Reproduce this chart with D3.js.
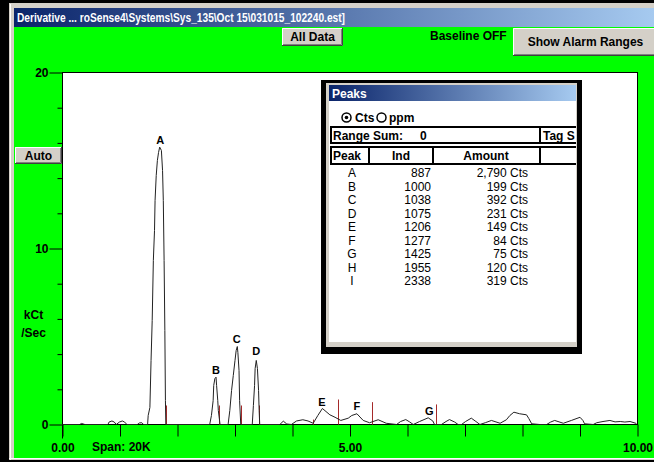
<!DOCTYPE html>
<html><head><meta charset="utf-8">
<script src="https://cdn.jsdelivr.net/npm/d3@7"></script>
<style>
body{margin:0;overflow:hidden;background:#000}
svg{display:block}
text{font-family:"Liberation Sans",Arial,sans-serif}
</style>
</head><body>
<svg id="c" width="654" height="462"></svg>
<script>
// ---------- data ----------
const curveX = [0,0.30,0.33,0.39,0.79,0.81,0.86,0.90,0.935,0.99,1.04,1.08,1.12,1.30,1.34,1.38,1.41,
  1.48,1.49,1.52,1.54,1.56,1.58,1.60,1.61,1.63,1.65,1.67,1.69,1.72,1.74,1.753,1.767,1.78,1.79,1.797,
  2.56,2.59,2.62,2.63,2.65,2.67,2.68,2.70,2.71,2.74,
  2.88,2.91,2.94,2.97,3.00,3.02,3.04,3.05,3.07,3.08,3.10,
  3.30,3.32,3.34,3.35,3.37,3.39,3.41,3.42,3.43,
  3.78,3.84,3.90,3.98,4.07,4.18,4.27,4.36,4.44,4.52,4.65,4.74,4.84,4.97,5.03,5.12,5.23,5.34,5.49,5.63,
  5.81,5.88,5.97,6.04,6.10,6.21,6.36,6.44,6.47,6.59,6.67,6.73,6.82,6.88,6.94,7.01,7.11,7.19,7.26,
  7.36,7.46,7.61,7.72,7.78,7.85,7.95,8.07,8.11,8.16,8.30,8.42,8.49,8.56,8.71,8.85,9.00,9.05,9.08,
  9.23,9.29,9.40,9.52,9.61,9.70,9.78,9.87,9.98];
const curveY = [0,0,0.06,0,0,0.14,0.20,0.14,0,0.14,0.20,0.14,0,0,0.09,0.10,0,
  0,0.51,0.97,3.64,5.91,9.32,11.02,12.73,14.15,15.0,15.45,15.76,15.57,14.43,12.73,9.32,5.34,1.36,0,
  0,0.51,1.36,2.22,2.61,2.69,2.22,1.36,0.80,0,
  0,0.80,1.93,2.78,3.64,4.20,4.43,4.09,3.07,1.36,0,
  0,1.08,2.22,3.18,3.64,3.18,1.93,0.80,0,
  0,0.19,0.03,0,0.20,0.27,0.20,0.07,0.51,0.91,0.55,0.41,0.23,0.36,0.51,0.61,0.23,0.10,0.27,0.07,
  0,0.17,0.28,0.14,0,0.17,0.38,0.20,0,0,0.17,0.28,0.14,0,0,0.17,0.36,0.17,0,
  0.11,0.23,0.07,0.27,0.51,0.70,0.61,0.55,0.34,0.04,0,0,0.14,0.23,0.07,0.23,0.41,0.23,0.04,
  0,0.10,0.17,0.23,0.15,0.17,0.14,0.17,0.06];

const labelNames = ["A","B","C","D","E","F","G"];
const labelX = [1.70,2.67,3.03,3.37,4.51,5.12,6.38];
const labelY = [16.17,3.11,4.87,4.20,1.27,1.04,0.74];

const markerX = [1.797,2.723,3.096,3.419,4.36,4.793,5.391,6.487];
const markerY = [1.08,1.08,1.08,1.08,0.28,1.42,1.27,1.14];

const yMajorTicks = [0,10,20];
const yMinorTicks = [2,4,6,8,12,14,16,18];
const xTicks = [0,1,2,3,4,5,6,7,8,9,10];
const xLabelTicks = [0,5,10];

const peakNames = ["A","B","C","D","E","F","G","H","I"];
const peakInd = [887,1000,1038,1075,1206,1277,1425,1955,2338];
const peakAmount = ["2,790","199","392","231","149","84","75","120","319"];

const titleText = "Derivative ... roSense4\\Systems\\Sys_135\\Oct 15\\031015_102240.est]";

// ---------- drawing ----------
const svg = d3.select("#c");
const defs = svg.append("defs");
const grad = defs.append("linearGradient").attr("id","tb").attr("x1","0").attr("x2","1");
grad.append("stop").attr("offset","0").attr("stop-color","#0a246a");
grad.append("stop").attr("offset","1").attr("stop-color","#a6caf0");

// window frame
svg.append("rect").attr("x",0).attr("y",0).attr("width",654).attr("height",462).attr("fill","#000");
svg.append("rect").attr("x",9).attr("y",3).attr("width",645).attr("height",457).attr("fill","#d4d0c8");
svg.append("line").attr("x1",10.5).attr("x2",10.5).attr("y1",4).attr("y2",460).attr("stroke","#fff");
svg.append("rect").attr("x",14).attr("y",8).attr("width",640).attr("height",19).attr("fill","url(#tb)");
svg.append("text").attr("x",17).attr("y",22).attr("fill","#fff").attr("font-weight","bold")
  .attr("font-size",12).attr("textLength",328).attr("lengthAdjust","spacingAndGlyphs").text(titleText);
svg.append("rect").attr("x",14).attr("y",27).attr("width",640).attr("height",431).attr("fill","#00ff00");
svg.append("line").attr("x1",9).attr("x2",654).attr("y1",458.5).attr("y2",458.5).attr("stroke","#fff");

function button(x,y,w,h,label,fs){
  const g = svg.append("g");
  g.append("rect").attr("x",x).attr("y",y).attr("width",w).attr("height",h).attr("fill","#d4d0c8");
  g.append("path").attr("d",`M${x+0.5},${y+h-1}V${y+0.5}H${x+w-1}`).attr("stroke","#fff").attr("fill","none");
  g.append("path").attr("d",`M${x+1},${y+h-1.5}H${x+w-1.5}V${y+1}`).attr("stroke","#808080").attr("fill","none");
  g.append("path").attr("d",`M${x},${y+h-0.5}H${x+w-0.5}V${y}`).attr("stroke","#404040").attr("fill","none");
  g.append("text").attr("x",x+w/2).attr("y",y+h/2).attr("dy","0.36em").attr("text-anchor","middle")
    .attr("font-weight","bold").attr("font-size",fs||12).attr("fill","#000").text(label);
}
button(282,28,61,18,"All Data");
button(513,28,145,28,"Show Alarm Ranges");
button(15,147,47,17,"Auto");
svg.append("text").attr("x",430).attr("y",40).attr("font-weight","bold").attr("font-size",12).text("Baseline OFF");

// scales
const x = d3.scaleLinear().domain([0,10]).range([62.5,637.5]);
const y = d3.scaleLinear().domain([0,20]).range([424.5,72.5]);

// plot area
svg.append("rect").attr("x",x(0)).attr("y",y(20)).attr("width",x(10)-x(0)).attr("height",y(0)-y(20))
  .attr("fill","#fff").attr("stroke","#000");

// axes
const yMinor = svg.append("g").attr("transform",`translate(${x(0)},0)`)
  .call(d3.axisLeft(y).tickValues(yMinorTicks).tickSize(5).tickFormat(""));
const yMajor = svg.append("g").attr("transform",`translate(${x(0)},0)`)
  .call(d3.axisLeft(y).tickValues(yMajorTicks).tickSize(13).tickPadding(1));
const xAx = svg.append("g").attr("transform",`translate(0,${y(0)})`)
  .call(d3.axisBottom(x).tickValues(xTicks).tickSize(12).tickPadding(7)
    .tickFormat(d => xLabelTicks.includes(d) ? d3.format(".2f")(d) : ""));
[yMinor,yMajor,xAx].forEach(g=>{
  g.select(".domain").remove();
  g.selectAll("line").attr("stroke","#000");
  g.selectAll("text").attr("font-size",12).attr("font-weight","bold").attr("fill","#000")
    .attr("font-family","'Liberation Sans',Arial,sans-serif");
});
svg.append("line").attr("x1",x(0)).attr("x2",x(0)).attr("y1",y(20)).attr("y2",y(0)+14).attr("stroke","#000");

svg.append("text").attr("x",33.5).attr("y",318.5).attr("text-anchor","middle").attr("font-weight","bold").attr("font-size",12).text("kCt");
svg.append("text").attr("x",33.5).attr("y",336.5).attr("text-anchor","middle").attr("font-weight","bold").attr("font-size",12).text("/Sec");
svg.append("text").attr("x",92).attr("y",451).attr("font-weight","bold").attr("font-size",12).text("Span: 20K");

// markers
svg.append("g").selectAll("line").data(markerX).join("line")
  .attr("x1",d=>Math.round(x(d))+0.5).attr("x2",d=>Math.round(x(d))+0.5)
  .attr("y1",y(0)).attr("y2",(d,i)=>y(markerY[i]))
  .attr("stroke","#a52a2a").attr("stroke-width",1);

// curve
const pts = curveX.map((d,i)=>[d,curveY[i]]);
svg.append("path").datum(pts)
  .attr("d",d3.line().x(d=>x(d[0])).y(d=>y(d[1])))
  .attr("fill","none").attr("stroke","#222").attr("stroke-width",1);

// peak labels
svg.append("g").selectAll("text").data(labelNames).join("text")
  .attr("x",(d,i)=>x(labelX[i])).attr("y",(d,i)=>y(labelY[i])).attr("dy","0.36em")
  .attr("text-anchor","middle").attr("font-weight","bold").attr("font-size",11).text(d=>d);

// Peaks window
const pw = svg.append("g");
pw.append("rect").attr("x",321).attr("y",80).attr("width",261).attr("height",274).attr("fill","#000");
pw.append("rect").attr("x",326).attr("y",83).attr("width",251).attr("height",264).attr("fill","#d4d0c8");
pw.append("rect").attr("x",329).attr("y",85).attr("width",247).attr("height",16).attr("fill","url(#tb)");
pw.append("text").attr("x",332).attr("y",97.5).attr("fill","#fff").attr("font-weight","bold").attr("font-size",12).text("Peaks");
pw.append("rect").attr("x",329).attr("y",101).attr("width",247).attr("height",241).attr("fill","#fff");

defs.append("clipPath").attr("id","pclip").append("rect").attr("x",329).attr("y",101).attr("width",247).attr("height",241);
const tb = pw.append("g").attr("clip-path","url(#pclip)");

// radio
[[346.5,true],[381.5,false]].forEach(([cx,on])=>{
  tb.append("circle").attr("cx",cx).attr("cy",117.5).attr("r",4.5).attr("fill","#fff").attr("stroke","#000").attr("stroke-width",1.5);
  if(on) tb.append("circle").attr("cx",cx).attr("cy",117.5).attr("r",1.8).attr("fill","#000");
});
tb.append("text").attr("x",355).attr("y",122).attr("font-weight","bold").attr("font-size",12).text("Cts");
tb.append("text").attr("x",389).attr("y",122).attr("font-weight","bold").attr("font-size",12).text("ppm");

// range row
tb.append("rect").attr("x",331).attr("y",127).attr("width",250).attr("height",16).attr("fill","none").attr("stroke","#000").attr("stroke-width",2);
tb.append("line").attr("x1",540).attr("x2",540).attr("y1",127).attr("y2",143).attr("stroke","#000").attr("stroke-width",2);
tb.append("text").attr("x",333).attr("y",139.5).attr("font-weight","bold").attr("font-size",12).text("Range Sum:");
tb.append("text").attr("x",420).attr("y",139.5).attr("font-weight","bold").attr("font-size",12).text("0");
tb.append("text").attr("x",543).attr("y",139.5).attr("font-weight","bold").attr("font-size",12).text("Tag S");

// header row
tb.append("rect").attr("x",331).attr("y",147).attr("width",250).attr("height",17).attr("fill","none").attr("stroke","#000").attr("stroke-width",2);
[369,433,540].forEach(v=>tb.append("line").attr("x1",v).attr("x2",v).attr("y1",147).attr("y2",164).attr("stroke","#000").attr("stroke-width",2));
tb.append("text").attr("x",333).attr("y",160).attr("font-weight","bold").attr("font-size",12).text("Peak");
tb.append("text").attr("x",401).attr("y",160).attr("text-anchor","middle").attr("font-weight","bold").attr("font-size",12).text("Ind");
tb.append("text").attr("x",486).attr("y",160).attr("text-anchor","middle").attr("font-weight","bold").attr("font-size",12).text("Amount");

// rows
const rowY = i => 177 + 13.5*i;
tb.append("g").selectAll("text").data(peakNames).join("text")
  .attr("x",352).attr("y",(d,i)=>rowY(i)).attr("text-anchor","middle").attr("font-size",12).text(d=>d);
tb.append("g").selectAll("text").data(peakInd).join("text")
  .attr("x",431).attr("y",(d,i)=>rowY(i)).attr("text-anchor","end").attr("font-size",12).text(d=>d);
tb.append("g").selectAll("text").data(peakAmount).join("text")
  .attr("x",528).attr("y",(d,i)=>rowY(i)).attr("text-anchor","end").attr("font-size",12).text(d=>d+" Cts");
</script>
</body></html>
